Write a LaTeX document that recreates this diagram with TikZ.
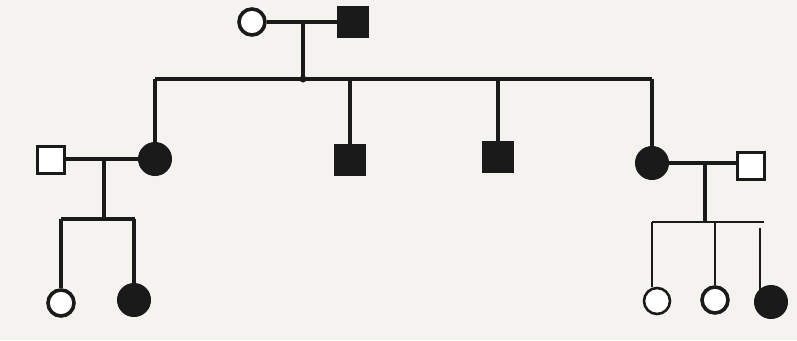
\documentclass[tikz,border=0pt]{standalone}
\definecolor{paper}{HTML}{F4F3EF}
\definecolor{ink}{HTML}{1A1A1A}
\begin{document}
\begin{tikzpicture}[x=1pt,y=-1pt,
  line/.style={draw=ink,line width=3.4pt},
  thinline/.style={draw=ink,line width=1.8pt},
  female/.style={circle,draw=ink,line width=3.6pt,fill=white,minimum size=26pt,inner sep=0pt},
  femaleA/.style={circle,draw=ink,line width=1pt,fill=ink,minimum size=33pt,inner sep=0pt},
  male/.style={rectangle,draw=ink,line width=3.6pt,fill=white,minimum size=27pt,inner sep=0pt},
  maleA/.style={rectangle,draw=ink,line width=1pt,fill=ink,minimum size=31pt,inner sep=0pt}]
\fill[paper] (0,0) rectangle (797,340);
\useasboundingbox (0,0) rectangle (797,340);
% generation I
\node[female] (i1) at (252,22) {};
\node[maleA] (i2) at (353,22) {};
\coordinate (m1) at (303,22);
\coordinate (s1) at (303,79);
\coordinate (s1l) at (155,79);
\coordinate (s1r) at (652,79);
\draw[line] (i1) -- (i2);
\draw[line] (m1) -- (s1);
\draw[line] (s1l) -- (s1r);
\fill[ink] (s1) circle (3.5pt);
% generation II
\node[male] (ii1) at (51,160) {};
\node[femaleA] (ii2) at (155,159) {};
\node[maleA] (ii3) at (350,160) {};
\node[maleA] (ii4) at (498,157) {};
\node[femaleA] (ii5) at (652,163) {};
\node[male] (ii6) at (751,166) {};
\draw[line] (ii2.north) -- (ii2.north |- s1l);
\draw[line] (ii3.north) -- (ii3.north |- s1l);
\draw[line] (ii4.north) -- (ii4.north |- s1l);
\draw[line] (ii5.north) -- (ii5.north |- s1l);
% left family
\draw[line] (ii1.east |- ii2) -- (ii2);
\coordinate (m2) at (104,159);
\coordinate (s2) at (104,219);
\coordinate (s2l) at (61,219);
\coordinate (s2r) at (135,219);
\draw[line] (m2) -- (s2);
\draw[line] (s2l) -- (s2r);
\node[female] (iii1) at (61,303) {};
\node[femaleA] (iii2) at (134,300) {};
\draw[line] (iii1.north) -- (iii1.north |- s2l);
\draw[line] (iii2.north) -- (iii2.north |- s2l);
% right family
\draw[line] (ii5) -- (ii6.west |- ii5);
\coordinate (m3) at (705,163);
\coordinate (s3) at (705,222);
\coordinate (s3l) at (652,222);
\coordinate (s3r) at (764,222);
\coordinate (c5) at (760,228);
\draw[line] (m3) -- (s3);
\draw[thinline] (s3l) -- (s3r);
\node[female,line width=2.6pt] (iii3) at (657,301) {};
\node[female] (iii4) at (715,300) {};
\node[femaleA] (iii5) at (771,302) {};
\draw[thinline] (iii3.north -| s3l) -- (s3l);
\draw[thinline] (iii4.north) -- (iii4.north |- s3l);
\draw[line,line width=2.4pt] (c5) -- (c5 |- iii5.135);
\end{tikzpicture}
\end{document}
